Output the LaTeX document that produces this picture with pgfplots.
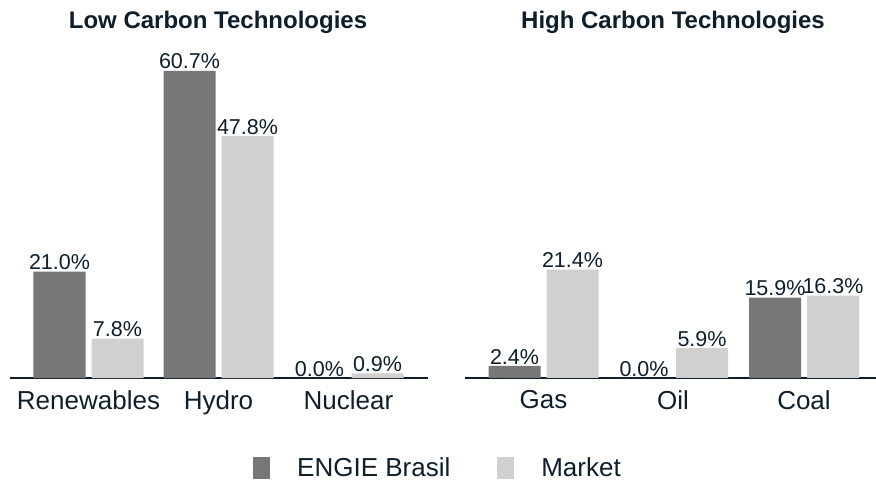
\documentclass[border=0pt]{standalone}
\usepackage{fontspec}
\setmainfont{Liberation Sans}
\usepackage{pgfplots}
\pgfplotsset{compat=1.18}
\definecolor{txt}{HTML}{0E1E2B}
\definecolor{darkbar}{HTML}{777777}
\definecolor{lightbar}{HTML}{D0D0D0}
\pgfplotsset{
  mybars/.style={
    ybar=6pt, bar width=52pt,
    scale only axis, height=318pt,
    ymin=0, ymax=62.85,
    axis x line=bottom, axis y line=none,
    x axis line style={-, line width=2pt, color=txt},
    xtick=data, major tick length=0pt, ytick=\empty,
    enlargelimits=false, clip=false,
    /pgf/number format/assume math mode=true,
    nodes near coords={\pgfmathprintnumber[fixed,fixed zerofill,precision=1]{\pgfplotspointmeta}\%},
    every node near coord/.append style={font=\fontsize{21.5}{21.5}\selectfont, text=txt, inner sep=1.5pt},
    xticklabel style={font=\fontsize{26}{26}\selectfont, text=txt, yshift=-9pt},
    title style={font=\fontsize{24}{26}\bfseries, text=txt, anchor=center},
    legend image code/.code={\fill (0pt,-11pt) rectangle (17pt,11pt);},
  }
}
\begin{document}
\begin{tikzpicture}[x=1pt,y=1pt]
\path[use as bounding box] (0,0) rectangle (876,482);
\begin{axis}[mybars, at={(10pt,104pt)}, anchor=south west,
  width=418pt, xmin=10, xmax=428,
  xticklabels={Renewables,Hydro,Nuclear},
  title={Low Carbon Technologies},
  title style={at={(0.4976,1)}, yshift=32pt},
  legend columns=2,
  legend style={draw=none, fill=none, at={(1.0215,-0.283)}, anchor=center,
    font=\fontsize{26}{26}\selectfont, text=txt,
    nodes={inner sep=0pt},
    /tikz/every odd column/.append style={column sep=27pt},
    /tikz/every even column/.append style={column sep=47pt}},
]
\addplot[fill=darkbar, draw=none] coordinates {(88.5,21.0) (218.5,60.7) (348.5,0.0)};
\addplot[fill=lightbar, draw=none] coordinates {(88.5,7.8) (218.5,47.8) (348.5,0.9)};
\legend{ENGIE Brasil, Market}
\end{axis}
\begin{axis}[mybars, at={(465pt,104pt)}, anchor=south west,
  width=411pt, xmin=465, xmax=876,
  xticklabels={Gas,Oil,Coal},
  title={High Carbon Technologies},
  title style={at={(0.506,1)}, yshift=32pt},
]
\addplot[fill=darkbar, draw=none] coordinates {(543.5,2.4) (673,0.0) (804,15.9)};
\addplot[fill=lightbar, draw=none] coordinates {(543.5,21.4) (673,5.9) (804,16.3)};
\end{axis}
\end{tikzpicture}
\end{document}
